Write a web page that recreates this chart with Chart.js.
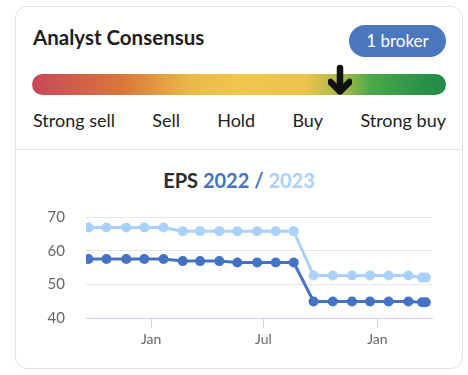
<!DOCTYPE html>
<html>
<head>
<meta charset="utf-8">
<script src="https://cdn.jsdelivr.net/npm/chart.js@4.4.1/dist/chart.umd.min.js"></script>
<style>
  html, body { margin: 0; padding: 0; background: #fff; }
  body { width: 468px; height: 375px; position: relative; overflow: hidden; font-family: Lato, "Open Sans", sans-serif; color: #222; }
  .card { position: absolute; left: 15px; top: 6px; width: 448px; height: 363px; box-sizing: border-box; border: 1px solid #e3e3e3; border-radius: 12px; }
  .heading { position: absolute; left: 33px; top: 25px; font-size: 20.5px; font-weight: 700; line-height: 24px; color: #1e1e1e; }
  .pill { position: absolute; left: 349px; top: 25px; width: 97px; height: 32px; border-radius: 16px; background: #4a77bd; color: #fff; font-size: 17px; line-height: 32px; text-align: center; }
  .bar { position: absolute; left: 32px; top: 74px; width: 414px; height: 21px; border-radius: 11px;
    background: linear-gradient(to right, #c9485a 0%, #d9773a 22%, #eab94a 38%, #f0c64b 50%, #ecc449 66%, #9ab847 76%, #4aa84a 82%, #2c9248 94%, #238a48 100%); }
  .arrow { position: absolute; left: 328px; top: 64px; }
  .labels { position: absolute; left: 33px; top: 108px; width: 413px; display: flex; justify-content: space-between; font-size: 18px; line-height: 24px; color: #222; }
  .divider { position: absolute; left: 15px; top: 149px; width: 448px; height: 1px; background: #e3e3e3; }
  .ctitle { position: absolute; left: 15px; top: 168px; width: 448px; text-align: center; font-size: 20px; font-weight: 700; line-height: 24px; color: #2b2b2b; }
  .ctitle .y1 { color: #4472c4; }
  .ctitle .y2 { color: #a9d1fb; }
  .wrap { position: absolute; left: 20px; top: 200px; width: 430px; height: 150px; }
</style>
</head>
<body>
<div class="card"></div>
<div class="heading">Analyst Consensus</div>
<div class="pill">1 broker</div>
<div class="bar"></div>
<svg class="arrow" width="24" height="32" viewBox="0 0 24 32">
  <line x1="12" y1="4" x2="12" y2="27" stroke="#111" stroke-width="6.5" stroke-linecap="round"/>
  <polyline points="2.5,18 12,27.5 21.5,18" fill="none" stroke="#111" stroke-width="6.5" stroke-linecap="round" stroke-linejoin="round"/>
</svg>
<div class="labels"><span>Strong sell</span><span>Sell</span><span>Hold</span><span>Buy</span><span>Strong buy</span></div>
<div class="divider"></div>
<div class="ctitle">EPS <span class="y1">2022 /</span> <span class="y2">2023</span></div>
<div class="wrap"><canvas id="epsChart"></canvas></div>

<script>
const dates = [
  "2021-09-22", "2021-10-21", "2021-11-22", "2021-12-21", "2022-01-21",
  "2022-02-21", "2022-03-21", "2022-04-21", "2022-05-20", "2022-06-21",
  "2022-07-21", "2022-08-19", "2022-09-20", "2022-10-21", "2022-11-21",
  "2022-12-20", "2023-01-19", "2023-02-20", "2023-03-14", "2023-03-20",
];
const eps2022 = [
  57.5, 57.5, 57.5, 57.5, 57.5, 56.9, 56.9, 56.9, 56.5, 56.5,
  56.5, 56.5, 44.9, 44.9, 44.9, 44.9, 44.9, 44.9, 44.7, 44.7,
];
const eps2023 = [
  66.9, 66.9, 66.9, 66.9, 66.9, 65.8, 65.8, 65.8, 65.8, 65.8,
  65.8, 65.8, 52.6, 52.6, 52.6, 52.6, 52.6, 52.6, 52.0, 52.0,
];
const tickDates = ["2022-01-01", "2022-07-01", "2023-01-01"];
const tickLabels = ["Jan", "Jul", "Jan"];
const xRange = ["2021-09-18", "2023-03-30"];
const yTicks = [40, 50, 60, 70];

const colors = {
  y2022: "#4472c4",
  y2023: "#a9d1fb",
  grid: "#e6e6e6",
  axis: "#ccd6eb",
  text: "#666666",
};

const toDay = (s) => Date.parse(s + "T00:00:00Z") / 86400000;

Chart.defaults.font.family = "Lato, 'Open Sans', sans-serif";

const ctx = document.getElementById("epsChart").getContext("2d");

new Chart(ctx, {
  type: "line",
  data: {
    datasets: [
      {
        label: "2022",
        data: dates.map((d, i) => ({ x: toDay(d), y: eps2022[i] })),
        borderColor: colors.y2022,
        backgroundColor: colors.y2022,
        pointBackgroundColor: colors.y2022,
        pointBorderWidth: 0,
        pointRadius: 5,
        borderWidth: 3,
        tension: 0,
      },
      {
        label: "2023",
        data: dates.map((d, i) => ({ x: toDay(d), y: eps2023[i] })),
        borderColor: colors.y2023,
        backgroundColor: colors.y2023,
        pointBackgroundColor: colors.y2023,
        pointBorderWidth: 0,
        pointRadius: 5,
        borderWidth: 3,
        tension: 0,
      },
    ],
  },
  options: {
    responsive: true,
    maintainAspectRatio: false,
    animation: false,
    layout: {
      padding: { top: 17, right: 18, left: 0, bottom: 0 },
    },
    plugins: {
      legend: { display: false },
      tooltip: { enabled: false },
    },
    scales: {
      x: {
        type: "linear",
        min: toDay(xRange[0]),
        max: toDay(xRange[1]),
        afterBuildTicks(scale) {
          scale.ticks = tickDates.map((d) => ({ value: toDay(d) }));
        },
        afterFit(scale) {
          scale.height = 32;
        },
        ticks: {
          color: colors.text,
          padding: 3,
          font: { size: 14 },
          maxRotation: 0,
          callback(value, index) {
            return tickLabels[index];
          },
        },
        grid: {
          drawOnChartArea: false,
          drawTicks: true,
          tickLength: 10,
          color: colors.axis,
        },
        border: {
          color: colors.axis,
          width: 1,
        },
      },
      y: {
        min: 40,
        max: 70,
        afterBuildTicks(scale) {
          scale.ticks = yTicks.map((v) => ({ value: v }));
        },
        afterFit(scale) {
          scale.width = 66;
        },
        ticks: {
          color: colors.text,
          padding: 0,
          font: { size: 15 },
        },
        grid: {
          drawTicks: true,
          tickLength: 21,
          tickColor: "rgba(0,0,0,0)",
          color: (c) => (c.tick && c.tick.value === 40 ? "rgba(0,0,0,0)" : colors.grid),
        },
        border: { display: false },
      },
    },
  },
});
</script>
</body>
</html>
